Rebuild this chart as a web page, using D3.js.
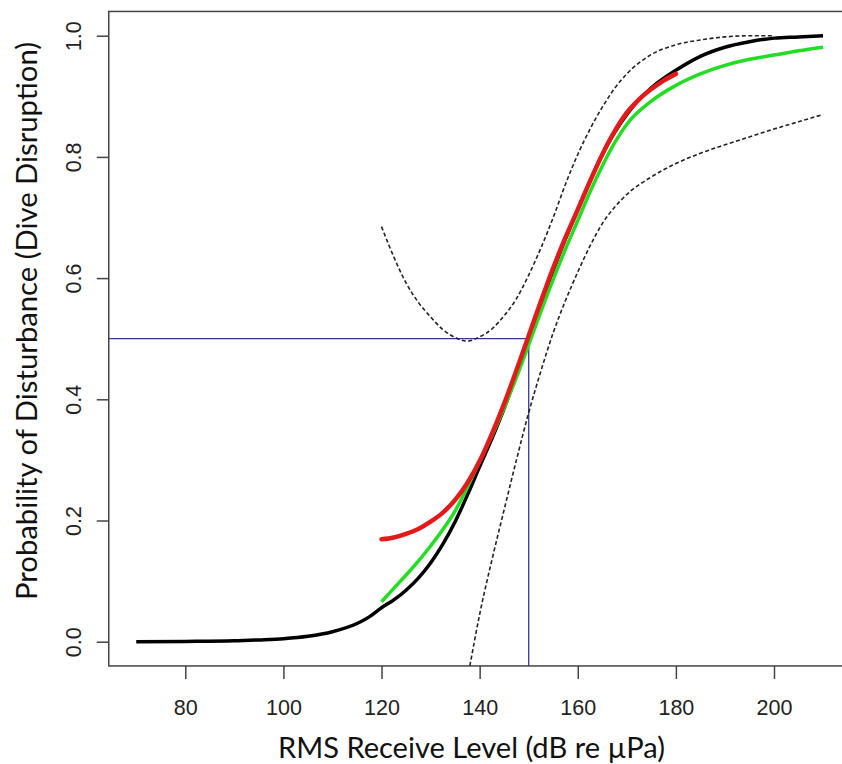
<!DOCTYPE html>
<html>
<head>
<meta charset="utf-8">
<script src="https://cdn.jsdelivr.net/npm/d3@7"></script>
<style>
  body { margin: 0; background: #fff; }
  svg { display: block; }
</style>
</head>
<body>
<div id="chart"></div>
<script>
// fitted dose-response curve (black)
const fitX = [70, 80, 90, 95, 100, 105, 110, 115, 117.5, 120, 122.5, 125, 127.5, 130, 132.5, 135, 137.5,
              140, 142.5, 145, 147.5, 150, 152.5, 155, 157.5, 160, 162.5, 165, 167.5, 170,
              175, 180, 185, 190, 195, 200, 205, 210];
const fitY = [0.0, 0.0005, 0.0015, 0.003, 0.005, 0.009, 0.0165, 0.03, 0.041, 0.056, 0.069, 0.085, 0.105,
              0.13, 0.161, 0.198, 0.242, 0.289, 0.335, 0.385, 0.441, 0.5, 0.558, 0.613, 0.665,
              0.713, 0.76, 0.804, 0.84, 0.87, 0.914, 0.943, 0.966, 0.981, 0.99, 0.996, 0.998, 1.0];

// green curve
const greenX = [120, 122.5, 125, 127.5, 130, 132.5, 135, 137.5, 140, 142.5, 145, 147.5, 150,
                152.5, 155, 157.5, 160, 162.5, 165, 167.5, 170, 175, 180, 185, 190, 195, 200, 205, 210];
const greenY = [0.066, 0.088, 0.11, 0.133, 0.158, 0.185, 0.216, 0.255, 0.298, 0.34, 0.386, 0.436,
                0.49, 0.545, 0.598, 0.648, 0.695, 0.742, 0.785, 0.823, 0.854, 0.892, 0.918, 0.937,
                0.951, 0.961, 0.968, 0.975, 0.981];

// red curve (points)
const redX = [120, 122.5, 125, 127.5, 130, 132.5, 135, 137.5, 140, 142.5, 145, 147.5, 150,
              152.5, 155, 157.5, 160, 162.5, 165, 167.5, 170, 172.5, 175, 177.5, 180];
const redY = [0.169, 0.172, 0.178, 0.186, 0.198, 0.213, 0.234, 0.262, 0.298, 0.343, 0.393, 0.448,
              0.505, 0.562, 0.617, 0.667, 0.713, 0.76, 0.804, 0.842, 0.873, 0.895, 0.912, 0.926, 0.937];

// confidence bands (dashed)
const upperX = [120, 122.5, 125, 127.5, 130, 132.5, 135, 137.5, 140, 142.5, 145, 147.5, 150,
                152.5, 155, 157.5, 160, 162.5, 165, 167.5, 170, 175, 180, 185, 190, 195, 200];
const upperY = [0.685, 0.635, 0.592, 0.56, 0.536, 0.515, 0.502, 0.496, 0.503, 0.516, 0.538, 0.566,
                0.605, 0.65, 0.7, 0.755, 0.804, 0.846, 0.882, 0.913, 0.937, 0.969, 0.985, 0.993,
                0.998, 1.0, 1.0];
const lowerX = [138, 140, 142.5, 145, 147.5, 150, 152.5, 155, 157.5, 160, 162.5, 165, 167.5,
                170, 175, 180, 185, 190, 195, 200, 205, 210];
const lowerY = [-0.04, 0.045, 0.135, 0.218, 0.3, 0.378, 0.447, 0.51, 0.563, 0.61, 0.653, 0.69,
                0.717, 0.738, 0.767, 0.789, 0.806, 0.82, 0.833, 0.846, 0.858, 0.87];

// reference lines: 50% response level
const refX = 150;
const refP = 0.5;

const xTicks = [80, 100, 120, 140, 160, 180, 200];
const yTicks = [0.0, 0.2, 0.4, 0.6, 0.8, 1.0];

const width = 842, height = 764;

const svg = d3.select("#chart").append("svg")
  .attr("width", width).attr("height", height);

// scales fitted to the tick positions in the picture
const xAxis = d3.scaleLinear().domain([80, 200]).range([185.3, 774.0]);
const yAxis = d3.scaleLinear().domain([0, 1]).range([641.7, 35.7]);

// R style 4% padding around the data range
const box = {
  x0: xAxis(64.4), x1: xAxis(215.6),
  y0: yAxis(1.04), y1: yAxis(-0.04)
};

svg.append("clipPath").attr("id", "clip")
  .append("rect")
  .attr("x", box.x0).attr("y", box.y0)
  .attr("width", box.x1 - box.x0).attr("height", box.y1 - box.y0);

const plotArea = svg.append("g").attr("clip-path", "url(#clip)");

const line = d3.line()
  .x(d => xAxis(d[0]))
  .y(d => yAxis(d[1]))
  .curve(d3.curveMonotoneX);

const zip = (xs, ys) => xs.map((x, i) => [x, ys[i]]);

// blue reference lines
plotArea.append("line")
  .attr("x1", box.x0).attr("x2", xAxis(refX))
  .attr("y1", yAxis(refP)).attr("y2", yAxis(refP))
  .attr("stroke", "#3535a0").attr("stroke-width", 1.3);
plotArea.append("line")
  .attr("x1", xAxis(refX)).attr("x2", xAxis(refX))
  .attr("y1", yAxis(refP)).attr("y2", box.y1)
  .attr("stroke", "#3535a0").attr("stroke-width", 1.3);

// dashed bands
[zip(upperX, upperY), zip(lowerX, lowerY)].forEach(d => {
  plotArea.append("path")
    .attr("d", line(d))
    .attr("fill", "none")
    .attr("stroke", "#222")
    .attr("stroke-width", 1.6)
    .attr("stroke-dasharray", "4,2.5");
});

plotArea.append("path")
  .attr("d", line(zip(fitX, fitY)))
  .attr("fill", "none")
  .attr("stroke", "#000")
  .attr("stroke-width", 3.5);

plotArea.append("path")
  .attr("d", line(zip(greenX, greenY)))
  .attr("fill", "none")
  .attr("stroke", "#22dd22")
  .attr("stroke-width", 3.5);

plotArea.append("path")
  .attr("d", line(zip(redX, redY)))
  .attr("fill", "none")
  .attr("stroke", "#e41a1a")
  .attr("stroke-width", 4.5)
  .attr("stroke-linecap", "round");

// box
svg.append("rect")
  .attr("x", box.x0).attr("y", box.y0)
  .attr("width", box.x1 - box.x0).attr("height", box.y1 - box.y0)
  .attr("fill", "none")
  .attr("stroke", "#444")
  .attr("stroke-width", 1.5);

// axes
const gx = svg.append("g")
  .attr("transform", `translate(0, ${box.y1})`)
  .call(d3.axisBottom(xAxis).tickValues(xTicks).tickSize(13).tickSizeOuter(0).tickPadding(21));
const gy = svg.append("g")
  .attr("transform", `translate(${box.x0}, 0)`)
  .call(d3.axisLeft(yAxis).tickValues(yTicks).tickSize(12).tickSizeOuter(0).tickFormat(d3.format(".1f")));

[gx, gy].forEach(g => {
  g.select(".domain").remove();
  g.selectAll(".tick line").attr("stroke", "#444").attr("stroke-width", 1.5);
  g.selectAll(".tick text")
    .attr("fill", "#222")
    .attr("font-family", "'Liberation Sans', Arial, sans-serif")
    .attr("font-size", 21.5);
});

// R style rotated y tick labels
gy.selectAll(".tick text")
  .attr("x", null).attr("dy", null)
  .attr("text-anchor", "middle")
  .attr("transform", "translate(-28, 0) rotate(-90)");

// axis titles
svg.append("text")
  .attr("x", 471.5).attr("y", 758)
  .attr("text-anchor", "middle")
  .attr("font-family", "Lato, 'Open Sans', sans-serif")
  .attr("font-size", 28)
  .attr("fill", "#111")
  .attr("textLength", 387)
  .attr("lengthAdjust", "spacingAndGlyphs")
  .text("RMS Receive Level (dB re µPa)");

svg.append("text")
  .attr("transform", "translate(37, 321) rotate(-90)")
  .attr("text-anchor", "middle")
  .attr("font-family", "Lato, 'Open Sans', sans-serif")
  .attr("font-size", 28)
  .attr("fill", "#111")
  .attr("textLength", 558)
  .attr("lengthAdjust", "spacingAndGlyphs")
  .text("Probability of Disturbance (Dive Disruption)");
</script>
</body>
</html>
